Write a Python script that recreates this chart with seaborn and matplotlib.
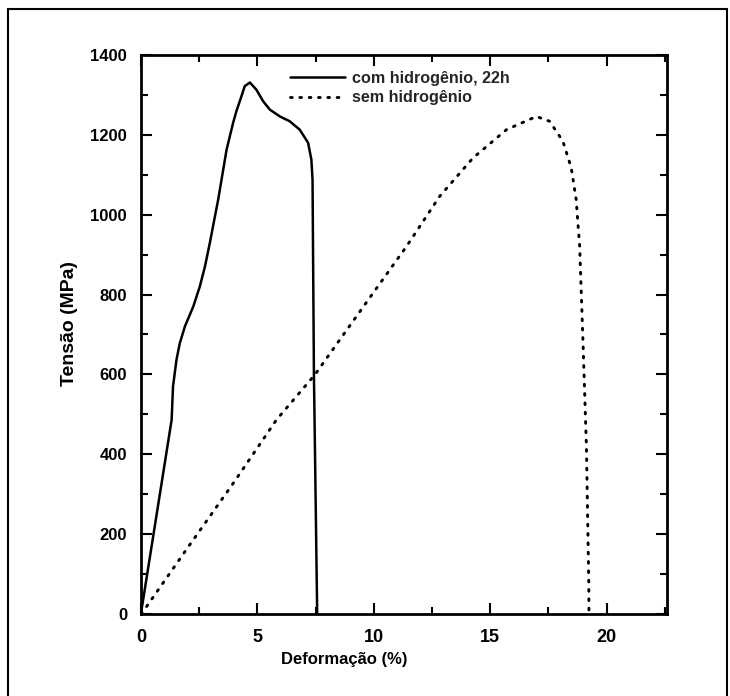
import matplotlib
matplotlib.use("Agg")
import matplotlib.pyplot as plt
import seaborn as sns
import pandas as pd
from matplotlib.lines import Line2D
from matplotlib.ticker import MultipleLocator

# --- data ---
com_h_strain = [0, 1.32, 1.38, 1.53, 1.67, 1.89, 2.25, 2.53, 2.75, 2.96, 3.18, 3.32,
                3.68, 3.96, 4.10, 4.32, 4.46, 4.68, 4.96, 5.25, 5.54, 5.97, 6.39,
                6.82, 7.18, 7.32, 7.37, 7.43, 7.57]
com_h_stress = [0, 486, 570, 637, 678, 720, 770, 820, 870, 929, 996, 1038,
                1163, 1230, 1259, 1297, 1322, 1331, 1313, 1284, 1263, 1246, 1234,
                1213, 1180, 1138, 1088, 600, 0]

sem_h_strain = [0, 0.24, 2.0, 4.0, 5.82, 7.47, 9.68, 11.4, 12.83, 14.26, 15.7,
                16.98, 17.55, 18.12, 18.48, 18.69, 18.84, 18.99, 19.13, 19.23, 19.24]
sem_h_stress = [0, 18, 165, 330, 486, 599, 780, 920, 1046, 1142, 1213,
                1246, 1234, 1184, 1117, 1038, 921, 670, 419, 85, 0]

label_com = "com hidrogênio, 22h"
label_sem = "sem hidrogênio"
x_label = "Deformação (%)"
y_label = "Tensão (MPa)"
x_ticks = [0, 5, 10, 15, 20]
y_ticks = [0, 200, 400, 600, 800, 1000, 1200, 1400]

df_com = pd.DataFrame({"strain": com_h_strain, "stress": com_h_stress})
df_sem = pd.DataFrame({"strain": sem_h_strain, "stress": sem_h_stress})

sns.set_theme(style="ticks")
plt.rcParams["font.family"] = ["Liberation Sans", "DejaVu Sans"]

fig = plt.figure(figsize=(7.30, 6.96), dpi=100)
ax = fig.add_axes([0.193, 0.118, 0.721, 0.803])

dot_style = (0, (0.6, 2.6))
sns.lineplot(data=df_com, x="strain", y="stress", ax=ax, sort=False,
             color="black", linewidth=1.8, label=label_com)
sns.lineplot(data=df_sem, x="strain", y="stress", ax=ax, sort=False,
             color="black", linewidth=2.1, label=label_sem,
             linestyle=dot_style, dash_capstyle="round")

ax.set_xlim(0, 22.6)
ax.set_ylim(0, 1400)
ax.set_xticks(x_ticks)
ax.set_yticks(y_ticks)
ax.xaxis.set_minor_locator(MultipleLocator(2.5))
ax.yaxis.set_minor_locator(MultipleLocator(100))
ax.tick_params(which="both", direction="in", top=True, right=True,
               color="black", width=1.5, labelcolor="black")
ax.tick_params(which="major", length=8)
ax.tick_params(which="minor", length=5)
ax.tick_params(axis="x", which="major", labelsize=13, pad=11)
ax.tick_params(axis="y", which="major", labelsize=12, pad=10)
for lab in ax.get_xticklabels() + ax.get_yticklabels():
    lab.set_fontweight("bold")
for s in ax.spines.values():
    s.set_linewidth(2.0)
    s.set_color("black")

ax.set_xlabel(x_label, fontsize=12, fontweight="bold", color="black")
ax.set_ylabel(y_label, fontsize=14, fontweight="bold", color="black")
ax.xaxis.set_label_coords(0.386, -0.068)
ax.yaxis.set_label_coords(-0.12, 0.52)

handles = [Line2D([], [], color="black", linewidth=1.8),
           Line2D([], [], color="black", linewidth=2.1,
                  linestyle=dot_style, dash_capstyle="round")]
leg = ax.legend(handles, [label_com, label_sem], loc="upper left",
                bbox_to_anchor=(0.283, 0.972), frameon=False,
                fontsize=11.6, handlelength=3.4, handletextpad=0.45,
                labelspacing=0.3, borderpad=0, borderaxespad=0)
for t in leg.get_texts():
    t.set_fontweight("bold")

# scan border around the figure
for xs, ys in [([0.011, 0.011], [0.0, 0.987]),
               ([0.011, 0.996], [0.987, 0.987]),
               ([0.996, 0.996], [0.0, 0.987])]:
    fig.add_artist(Line2D(xs, ys, transform=fig.transFigure,
                          color="black", linewidth=1.5))

fig.savefig("out.png", dpi=100)
